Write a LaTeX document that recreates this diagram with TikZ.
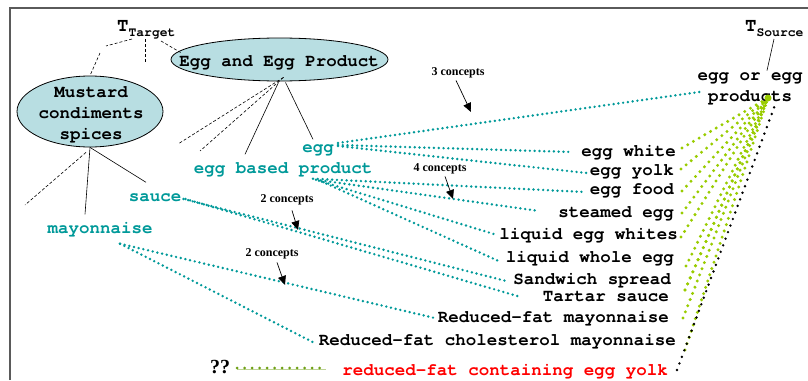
\documentclass[tikz,border=0pt]{standalone}
\usepackage{fontspec}
\setmainfont{Liberation Serif}
\newfontfamily\monof{texgyrecursor}[Extension=.otf, UprightFont=*-regular, BoldFont=*-bold]
\usetikzlibrary{shapes.geometric,arrows.meta,calc}
\definecolor{tealc}{RGB}{0,153,153}
\definecolor{ygreen}{RGB}{153,204,0}
\definecolor{olivec}{RGB}{110,160,20}
\definecolor{ellfill}{RGB}{184,222,226}
\definecolor{redc}{RGB}{255,0,0}
\definecolor{framec}{RGB}{90,90,90}
\begin{document}
\begin{tikzpicture}[x=1pt,y=-1pt,
  mono/.style={font=\monof\bfseries\fontsize{17.5}{21}\selectfont, inner sep=0pt, text height=10pt, text depth=3pt},
  monoml/.style={font=\monof\bfseries\fontsize{17.5}{21}\selectfont, inner sep=0pt, align=center},
  tmono/.style={mono, text=tealc},
  conc/.style={font=\bfseries\fontsize{12}{14}\selectfont, inner sep=0pt},
  ell/.style={ellipse, draw, line width=0.8pt, fill=ellfill, inner sep=0pt},
  tdot/.style={draw=tealc, line width=2.7pt, line cap=round, dash pattern=on 0pt off 4.8pt},
  gdot/.style={draw=ygreen, line width=3.3pt, line cap=round, dash pattern=on 0pt off 6.6pt},
  bdot/.style={draw=black, line width=2.7pt, line cap=round, dash pattern=on 0pt off 7pt},
  tree/.style={draw, line width=0.6pt},
  dtree/.style={draw, line width=0.6pt, dash pattern=on 3pt off 2pt},
  carrow/.style={draw, line width=0.7pt, -{Triangle[length=9pt,width=8pt]}}
]
\useasboundingbox (0,0) rectangle (808,380);
\draw[framec, line width=1.3pt] (10,380) -- (10,8) -- (808,8);

% T labels
\node[font=\monof\bfseries\fontsize{19}{20}\selectfont, inner sep=0pt, anchor=base west] (tt) at (117,31) {T\raisebox{-5pt}{\fontsize{13}{13}\selectfont Target}};
\node[font=\monof\bfseries\fontsize{19}{20}\selectfont, inner sep=0pt, anchor=base west] (ts) at (745,31) {T\raisebox{-5pt}{\fontsize{13}{13}\selectfont Source}};

% ellipses
\node[ell, minimum width=217pt, minimum height=43pt] (eep) at (279.5,59.5) {};
\node[mono] (eept) at (279,63) {Egg and Egg Product};
\node[ell, minimum width=146pt, minimum height=71pt] (mcs) at (90,111.5) {};
\node[monoml] (mcst) at (91,115) {Mustard\\condiments\\spices};

% teal target nodes
\node[tmono] (egg) at (318,149) {egg};
\node[tmono] (ebp) at (283,170) {egg based product};
\node[tmono] (sauce) at (155,198) {sauce};
\node[tmono] (mayo) at (100,230) {mayonnaise};

% source nodes
\node[monoml] (egp) at (750,89) {egg or egg\\products};
\node[mono, anchor=east] (ew) at (676,153) {egg white};
\node[mono, anchor=east] (ey) at (674,172) {egg yolk};
\node[mono, anchor=east] (ef) at (674,191) {egg food};
\node[mono, anchor=east] (se) at (674,214) {steamed egg};
\node[mono, anchor=east] (lew) at (678,236) {liquid egg whites};
\node[mono, anchor=east] (lwe) at (674,259) {liquid whole egg};
\node[mono, anchor=east] (ss) at (671,281) {Sandwich spread};
\node[mono, anchor=east] (tsc) at (669,298) {Tartar sauce};
\node[mono, anchor=east] (rfm) at (669,319) {Reduced-fat mayonnaise};
\node[mono, anchor=east] (rfcm) at (676,342) {Reduced-fat cholesterol mayonnaise};
\node[mono, anchor=east, text=redc] (rfy) at (668,372) {reduced-fat containing egg yolk};
\node[font=\bfseries\fontsize{20}{22}\selectfont, inner sep=0pt] (qq) at (220,367) {??};

% tree lines
\draw[dtree] ($(tt.base west)+(15,8)$) -- (106,46) (100,53) -- (mcs.north);
\draw[dtree] ($(tt.base west)+(28,8)$) -- ($(tt.base west)+(28,31)$);
\draw[dtree] ($(tt.base west)+(44,10)$) -- ($(eep.west)+(10,-7)$);
\draw[tree] ($(eep.south)+(6,1)$) -- ($(egg.north)+(-5,-3)$);
\draw[tree] ($(eep.south)+(-1,1)$) -- ($(ebp.north)+(-38,-9)$);
\draw[dtree] ($(eep.south)+(4,-4)$) -- (178,144);
\draw[dtree] ($(eep.south)+(4,-4)$) -- (200,151);
\draw[tree] (mcs.south) -- ($(mayo.north)+(-15,-9)$);
\draw[tree] (mcs.south) -- ($(sauce.north)+(-9,-9)$);
\draw[dtree] ($(mcs.south)+(-4,5)$) -- (25,205);

% teal dotted mappings
\draw[tdot] ($(egg.east)+(4,-6)$) -- ($(egp.west)+(2,3)$);
\draw[tdot] ($(egg.east)+(4,-4)$) -- ($(ew.west)+(-9,-1)$);
\draw[tdot] ($(egg.east)+(4,-3)$) -- ($(ey.west)+(-3,1)$);
\draw[tdot] ($(ebp.south)+(30,2)$) -- ($(ef.west)+(-5,1)$);
\draw[tdot] ($(ebp.south)+(33,3)$) -- ($(se.west)+(-19,-3)$);
\draw[tdot] ($(ebp.south)+(36,4)$) -- ($(lew.west)+(-2,-1)$);
\draw[tdot] ($(ebp.south)+(39,5)$) -- ($(lwe.west)+(-7,2)$);
\draw[tdot] ($(sauce.east)+(2,1)$) -- ($(ss.west)+(-7,0)$);
\draw[tdot] ($(sauce.east)+(4,1)$) -- ($(tsc.west)+(-22,-1)$);
\draw[tdot] ($(mayo.south)+(20,7)$) -- ($(rfm.west)+(-3,-1)$);
\draw[tdot] ($(mayo.south)+(20,7)$) -- ($(rfcm.west)+(-6,0)$);

% green dotted convergence
\coordinate (cv) at (768,98);
\foreach \n/\dx/\dy in {ew/6/-5, ey/7/-3, ef/8/0, se/8/-1, lew/3/1, lwe/12/7, ss/14/9, tsc/16/-8, rfm/14/-1, rfcm/9/8}
  \draw[gdot] ($(\n.east)+(\dx,\dy)$) -- (cv);
\fill[ygreen] (cv) circle (3.5pt);
\draw[bdot] ($(rfy.east)+(9,-2)$) -- (775,105);

% ?? link
\draw[olivec!45, line width=0.5pt] ($(qq.east)+(7,2.5)$) -- ($(rfy.west)+(-16,-2.5)$);
\draw[olivec, line width=3pt, line cap=round, dash pattern=on 0pt off 7.5pt] ($(qq.east)+(7,1)$) -- ($(rfy.west)+(-16,-4)$);

% source tree line
\draw[tree] ($(ts.base west)+(29,8)$) -- ($(egp.north)+(17,-2)$);

% concept labels
\node[conc] (c3) at (458,73) {3 concepts};
\draw[carrow] ($(c3.south)+(-2,2)$) -- (471,112);
\node[conc] (c4) at (440,169) {4 concepts};
\draw[carrow] ($(c4.south)+(5,2)$) -- (453,199);
\node[conc] (c2a) at (287,200) {2 concepts};
\draw[carrow] ($(c2a.south)+(5,5)$) -- (298,230);
\node[conc] (c2b) at (272,254) {2 concepts};
\draw[carrow] ($(c2b.south)+(5,3)$) -- (285,285);
\end{tikzpicture}
\end{document}
